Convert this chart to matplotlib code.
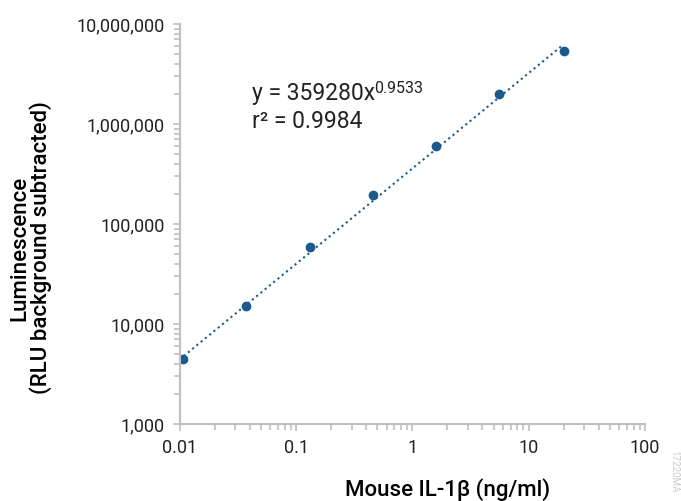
import numpy as np
import matplotlib.pyplot as plt
from matplotlib.ticker import FuncFormatter, LogLocator, NullFormatter

plt.rcParams['font.family'] = ['Roboto', 'DejaVu Sans']

# данные
conc = [0.0106, 0.037, 0.132, 0.46, 1.61, 5.6, 20.0]
lum = [4450, 15100, 59000, 193000, 605000, 2000000, 5400000]

# линия тренда y = a*x^b
coef_a = 359280
coef_b = 0.9533
r2 = 0.9984

col = '#1a5a8c'
gray = '#bfbfbf'
tcol = '#222222'

fig = plt.figure(figsize=(6.81, 5.01), dpi=100)
ax = fig.add_axes([0.2643, 0.1537, 0.6827, 0.7985])

xt = np.logspace(np.log10(conc[0]) - 0.03, np.log10(conc[-1]), 50)
ax.plot(xt, coef_a * xt**coef_b, ':', color=col, lw=1.5)
ax.plot(conc, lum, 'o', color=col, ms=6)

ax.set_xscale('log')
ax.set_yscale('log')
ax.set_xlim(0.01, 100)
ax.set_ylim(1000, 1e7)

ax.xaxis.set_major_formatter(FuncFormatter(lambda v, p: f'{v:g}'))
ax.yaxis.set_major_formatter(FuncFormatter(lambda v, p: f'{v:,.0f}'))
ax.xaxis.set_minor_locator(LogLocator(base=10, subs=np.arange(2, 10)))
ax.yaxis.set_minor_locator(LogLocator(base=10, subs=np.arange(2, 10)))
ax.xaxis.set_minor_formatter(NullFormatter())
ax.yaxis.set_minor_formatter(NullFormatter())

for s in ['top', 'right']:
    ax.spines[s].set_visible(False)
for s in ['left', 'bottom']:
    ax.spines[s].set_color(gray)
    ax.spines[s].set_linewidth(1.5)
ax.tick_params(which='both', color=gray, width=1.2, labelsize=13, labelcolor=tcol)
ax.tick_params(which='major', length=5, pad=6)
ax.tick_params(which='minor', length=4)

ax.set_xlabel('Mouse IL-1β (ng/ml)', fontsize=16, fontweight='medium')
ax.xaxis.set_label_coords(0.576, -0.135)
ax.set_ylabel('Luminescence\n(RLU background subtracted)', fontsize=16,
              fontweight='medium', linespacing=0.95)
ax.yaxis.set_label_coords(-0.275, 0.44)

# уравнение тренда, показатель степени отдельным текстом
t1 = ax.text(0.0418, 1.74e6, f'y = {coef_a}x', fontsize=16.5,
             color=tcol, va='baseline')
ax.annotate(f'{coef_b}', xy=(1, 1), xycoords=t1, xytext=(-0.5, 1),
            textcoords='offset points', fontsize=11.5, color=tcol,
            ha='left', va='top')
ax.text(0.0418, 9.1e5, f'r² = {r2}', fontsize=16.5, color=tcol, va='baseline')

fig.text(0.99, 0.06, '17220MA', rotation=270, fontsize=7, color='#cccccc',
         ha='center', va='center')

fig.savefig('out.png', dpi=100)
